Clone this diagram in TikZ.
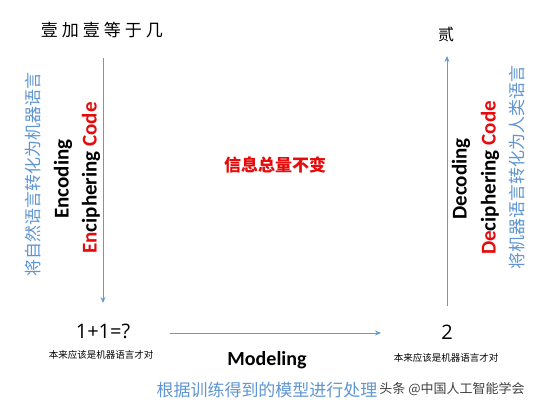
\documentclass[tikz,border=0pt]{standalone}
\usepackage{fontspec}
\setmainfont{Carlito}
\newfontfamily\cjk{Noto Sans CJK SC}
\newfontfamily\numfont{Open Sans}
\usetikzlibrary{arrows.meta}
\definecolor{arrowblue}{RGB}{100,155,205}
\definecolor{txtblue}{RGB}{95,150,210}
\definecolor{redtxt}{RGB}{230,10,10}
\tikzset{
  flow/.style={draw=arrowblue, line width=0.9pt, -{Stealth[length=6pt,width=5pt]}},
  bluelbl/.style={text=txtblue, font=\cjk\fontsize{17}{20}\selectfont, inner sep=0pt},
  enlbl/.style={font=\bfseries\fontsize{21}{24}\selectfont, inner sep=0pt},
  smalllbl/.style={font=\cjk\fontsize{9.5}{11}\selectfont, inner sep=0pt},
  numlbl/.style={font=\numfont\fontsize{20}{24}\selectfont, inner sep=0pt},
}
\newcommand{\rd}[1]{\textcolor{redtxt}{#1}}
\begin{document}
\begin{tikzpicture}[x=1pt,y=-1pt]
\useasboundingbox[fill=white] (0,0) rectangle (539,412);
% title and result
\node[font=\cjk\fontsize{17}{20}\selectfont, inner sep=0pt] (title) at (102,30) {壹\hspace{4pt}加\hspace{4pt}壹\hspace{4pt}等\hspace{4pt}于\hspace{4pt}几};
\node[font=\cjk\fontsize{16}{20}\selectfont, inner sep=0pt] (er) at (446,34) {贰};
% left side
\coordinate (ltop) at (103,58);
\coordinate (lbot) at (103,303);
\draw[flow] (ltop) -- (lbot);
\node[bluelbl, rotate=90] (lblue) at (33,174) {将自然语言转化为机器语言};
\node[enlbl, rotate=90] (enc) at (63,179) {Encoding};
\node[enlbl, rotate=90] (encc) at (91,178) {\rd{En}ciphering \rd{Code}};
% right side
\coordinate (rbot) at (447,306);
\coordinate (rtop) at (447,56);
\draw[flow] (rbot) -- (rtop);
\node[enlbl, rotate=90] (dec) at (461,179) {Decoding};
\node[enlbl, rotate=90] (decc) at (490,178) {\rd{De}ciphering \rd{Code}};
\node[bluelbl, rotate=90] (rblue) at (517,167) {将机器语言转化为人类语言};
% middle
\node[font=\cjk\bfseries\fontsize{17}{20}\selectfont, text=redtxt, inner sep=0pt] (info) at (275,165) {信息总量不变};
% bottom
\node[numlbl] (eq) at (103,331) {1+1=?};
\node[smalllbl] (leqs) at (101,355) {本来应该是机器语言才对};
\node[numlbl] (two) at (447,332) {2};
\node[smalllbl] (reqs) at (446,358) {本来应该是机器语言才对};
\coordinate (hs) at (170,333);
\coordinate (he) at (381,333);
\draw[flow] (hs) -- (he);
\node[enlbl, font=\bfseries\fontsize{20}{24}\selectfont] (model) at (267,360) {Modeling};
\node[bluelbl] (mblue) at (267,390) {根据训练得到的模型进行处理};
\node[font=\cjk\fontsize{13}{15}\selectfont, text=black!75, inner sep=0pt] (wm) at (452,389) {头条 @中国人工智能学会};
\end{tikzpicture}
\end{document}
